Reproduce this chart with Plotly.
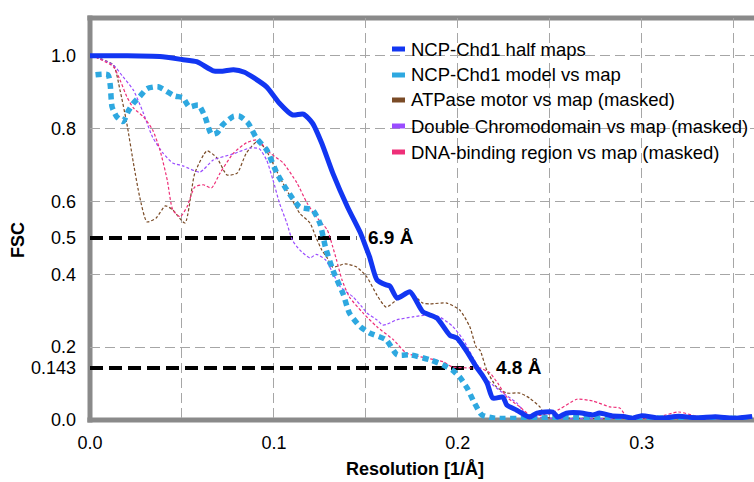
import plotly.graph_objects as go

# ---------------- data ----------------
half_x = [0, 0.02, 0.038, 0.05, 0.058, 0.067, 0.072, 0.078, 0.084, 0.089, 0.096, 0.103, 0.110, 0.116,
          0.121, 0.126, 0.132, 0.140, 0.147, 0.150, 0.152, 0.156, 0.161, 0.163, 0.167, 0.174, 0.181,
          0.1886, 0.1956, 0.1995, 0.205, 0.210, 0.213, 0.216, 0.219, 0.2245, 0.2266, 0.232, 0.239,
          0.243, 0.2516, 0.2543, 0.259, 0.266, 0.2734, 0.277, 0.284, 0.29, 0.295, 0.30, 0.31, 0.32,
          0.33, 0.34, 0.35, 0.36]
half_y = [1.0, 1.0, 0.998, 0.99, 0.984, 0.959, 0.958, 0.962, 0.955, 0.94, 0.915, 0.87, 0.838, 0.84,
          0.815, 0.76, 0.678, 0.585, 0.514, 0.475, 0.448, 0.385, 0.371, 0.368, 0.335, 0.352, 0.297,
          0.28, 0.233, 0.225, 0.187, 0.146, 0.125, 0.10, 0.06, 0.063, 0.041, 0.027, 0.008,
          0.019, 0.022, 0.008, 0.019, 0.02, 0.014, 0.019, 0.011, 0.01, 0.005, 0.012, 0.005, 0.01,
          0.006, 0.009, 0.005, 0.01]

model_x = [0.003, 0.0098, 0.011, 0.012, 0.0145, 0.018, 0.021, 0.0236, 0.027, 0.031, 0.037, 0.046,
           0.0505, 0.054, 0.059, 0.0625, 0.066, 0.069, 0.072, 0.078, 0.0815, 0.086, 0.0905, 0.096,
           0.1016, 0.107, 0.114, 0.121, 0.125, 0.128, 0.132, 0.1377, 0.141, 0.147, 0.152, 0.161,
           0.167, 0.174, 0.185, 0.192, 0.197, 0.201, 0.205, 0.209, 0.213, 0.22, 0.24, 0.26, 0.28,
           0.30, 0.32, 0.34, 0.36]
model_y = [0.948, 0.948, 0.92, 0.86, 0.833, 0.82, 0.85, 0.87, 0.888, 0.91, 0.915, 0.89,
           0.885, 0.86, 0.865, 0.833, 0.785, 0.788, 0.81, 0.834, 0.834, 0.815, 0.774, 0.742,
           0.678, 0.632, 0.585, 0.577, 0.54, 0.475, 0.412, 0.345, 0.294, 0.256, 0.239, 0.22,
           0.179, 0.179, 0.165, 0.151, 0.137, 0.118, 0.088, 0.047, 0.014, 0.005, 0.005, 0.008, 0.005,
           0.005, 0.006, 0.005, 0.005]

atp_x = [0.003, 0.0127, 0.0163, 0.020, 0.0236, 0.027, 0.031, 0.036, 0.041, 0.045, 0.0516, 0.057,
         0.0636, 0.069, 0.0745, 0.080, 0.085, 0.0908, 0.095, 0.103, 0.109, 0.114, 0.1196, 0.123,
         0.126, 0.129, 0.132, 0.1386, 0.145, 0.1505, 0.156, 0.161, 0.1668, 0.174, 0.181, 0.185,
         0.194, 0.201, 0.2065, 0.210, 0.212, 0.2157, 0.221, 0.2266, 0.2337, 0.239, 0.2446, 0.248,
         0.26, 0.28, 0.30, 0.32, 0.34, 0.36]
atp_y = [0.997, 0.975, 0.906, 0.815, 0.706, 0.613, 0.544, 0.555, 0.588, 0.577, 0.541, 0.678,
         0.739, 0.72, 0.673, 0.678, 0.733, 0.764, 0.747, 0.668, 0.613, 0.568, 0.541, 0.5,
         0.467, 0.445, 0.42, 0.429, 0.42, 0.393, 0.343, 0.31, 0.33, 0.349, 0.321, 0.319,
         0.321, 0.302, 0.256, 0.2, 0.192, 0.137, 0.091, 0.074, 0.074, 0.06, 0.036, 0.008,
         0.005, 0.004, 0.005, 0.004, 0.005, 0.004]

chromo_x = [0.003, 0.0127, 0.018, 0.0236, 0.029, 0.034, 0.0397, 0.045, 0.0505, 0.0598, 0.067, 0.078,
            0.087, 0.092, 0.096, 0.0995, 0.103, 0.107, 0.110, 0.114, 0.1196, 0.123, 0.128, 0.132,
            0.136, 0.143, 0.148, 0.1505, 0.156, 0.159, 0.161, 0.1668, 0.1755, 0.183, 0.190, 0.197,
            0.203, 0.208, 0.212, 0.216, 0.2245, 0.232, 0.2375, 0.25, 0.28, 0.31, 0.34, 0.36]
chromo_y = [0.997, 0.975, 0.942, 0.906, 0.843, 0.777, 0.733, 0.706, 0.698, 0.681, 0.714, 0.731,
            0.747, 0.745, 0.714, 0.659, 0.596, 0.541, 0.494, 0.467, 0.445, 0.455, 0.44, 0.404,
            0.366, 0.338, 0.31, 0.294, 0.275, 0.261, 0.262, 0.275, 0.283, 0.288, 0.283, 0.258,
            0.22, 0.173, 0.14, 0.11, 0.074, 0.047, 0.014, 0.005, 0.004, 0.005, 0.004, 0.005]

dna_x = [0.003, 0.0127, 0.0163, 0.020, 0.0236, 0.029, 0.034, 0.038, 0.042, 0.045, 0.049, 0.0527,
         0.057, 0.0616, 0.066, 0.0707, 0.078, 0.085, 0.0908, 0.098, 0.105, 0.1125, 0.118, 0.123,
         0.129, 0.132, 0.134, 0.137, 0.141, 0.1484, 0.156, 0.165, 0.172, 0.183, 0.192, 0.197,
         0.2065, 0.212, 0.2174, 0.2217, 0.2266, 0.2337, 0.239, 0.248, 0.2554, 0.2647, 0.2734,
         0.2826, 0.288, 0.292, 0.299, 0.31, 0.32, 0.33, 0.34, 0.35, 0.36]
dna_y = [0.997, 0.97, 0.934, 0.888, 0.857, 0.833, 0.797, 0.742, 0.659, 0.577, 0.558, 0.585,
         0.64, 0.646, 0.637, 0.678, 0.733, 0.761, 0.769, 0.733, 0.706, 0.651, 0.596, 0.558,
         0.522, 0.475, 0.44, 0.385, 0.338, 0.294, 0.256, 0.22, 0.184, 0.17, 0.16, 0.146,
         0.143, 0.143, 0.129, 0.101, 0.063, 0.036, 0.014, 0.014, 0.03, 0.057, 0.052,
         0.036, 0.033, 0.008, 0.005, 0.01, 0.022, 0.01, 0.006, 0.01, 0.005]

series_names = ["NCP-Chd1 half maps", "NCP-Chd1 model vs map", "ATPase motor vs map (masked)",
                "Double Chromodomain vs map (masked)", "DNA-binding region vs map (masked)"]
series_colors = ["#1236f2", "#2ea8e0", "#7a4b26", "#9a4cff", "#ee2f78"]

thresholds = [0.5, 0.143]
threshold_res = [1 / 6.9, 1 / 4.8]
threshold_labels = ["6.9 Å", "4.8 Å"]

x_tickvals = [0.0, 0.1, 0.2, 0.3]
x_ticktext = ["0.0", "0.1", "0.2", "0.3"]
y_tickvals = [0.0, 0.143, 0.2, 0.4, 0.5, 0.6, 0.8, 1.0]
y_ticktext = ["0.0", "0.143", "0.2", "0.4", "0.5", "0.6", "0.8", "1.0"]

# ---------------- figure ----------------
FONT = "Liberation Sans, Arial, Helvetica, sans-serif"
X_RANGE = [0, 0.361]
Y_RANGE = [0, 1.104]
L, T, W, H = 90, 18, 664, 402


def px2paper(px, py):
    return (px - L) / W, (T + H - py) / H


fig = go.Figure()

# threshold dashed lines
for thr, res in zip(thresholds, threshold_res):
    fig.add_trace(go.Scatter(x=[0, res], y=[thr, thr], mode="lines",
                             line=dict(color="black", width=4, dash="13px,6px"),
                             showlegend=False, hoverinfo="skip"))

styles = [
    dict(width=5, dash="solid"),
    dict(width=5.5, dash="6px,4.5px"),
    dict(width=1.2, dash="3px,2px"),
    dict(width=1.2, dash="3px,2px"),
    dict(width=1.2, dash="3px,2px"),
]
data = [(half_x, half_y), (model_x, model_y), (atp_x, atp_y), (chromo_x, chromo_y), (dna_x, dna_y)]
order = [2, 3, 4, 1, 0]
for i in order:
    xs, ys = data[i]
    fig.add_trace(go.Scatter(x=xs, y=ys, mode="lines", name=series_names[i],
                             line=dict(color=series_colors[i], width=styles[i]["width"],
                                       dash=styles[i]["dash"], shape="spline", smoothing=0.6),
                             showlegend=False))

# threshold labels
label_shift = [9, 21]
for thr, res, lab, sh in zip(thresholds, threshold_res, threshold_labels, label_shift):
    fig.add_annotation(x=res, y=thr, text="<b>%s</b>" % lab, showarrow=False,
                       xanchor="left", yanchor="middle", xshift=sh,
                       font=dict(family=FONT, size=19, color="black"))

# manual legend
row_y = [49, 75, 100, 126, 152]
for name, col, ry in zip(series_names, series_colors, row_y):
    x0, y0 = px2paper(392, ry - 2.5)
    x1, y1 = px2paper(405, ry + 2.5)
    fig.add_shape(type="rect", xref="paper", yref="paper", x0=x0, x1=x1, y0=y1, y1=y0,
                  fillcolor=col, line=dict(width=0), layer="above")
    tx, ty = px2paper(409, ry)
    fig.add_annotation(xref="paper", yref="paper", x=tx, y=ty, text=name, showarrow=False,
                       xanchor="left", yanchor="middle",
                       font=dict(family=FONT, size=18.5, color="black"))

# axis titles
ax_, ay_ = px2paper(18, 240)
fig.add_annotation(xref="paper", yref="paper", x=ax_, y=ay_, text="<b>FSC</b>", showarrow=False,
                   textangle=-90, xanchor="center", yanchor="middle",
                   font=dict(family=FONT, size=18, color="black"))
bx_, by_ = px2paper(415, 469)
fig.add_annotation(xref="paper", yref="paper", x=bx_, y=by_, text="<b>Resolution [1/Å]</b>",
                   showarrow=False, xanchor="center", yanchor="middle",
                   font=dict(family=FONT, size=18, color="black"))

# frame (left, bottom, top)
BORDER = "#8a8a8a"
fig.add_shape(type="line", xref="paper", yref="paper", x0=0, x1=0, y0=-0.006, y1=1.006,
              line=dict(color=BORDER, width=5), layer="below")
fig.add_shape(type="line", xref="paper", yref="paper", x0=-0.004, x1=1, y0=0, y1=0,
              line=dict(color=BORDER, width=5), layer="below")
fig.add_shape(type="line", xref="paper", yref="paper", x0=-0.004, x1=1, y0=1, y1=1,
              line=dict(color=BORDER, width=5), layer="below")

GRID = "#a6a6a6"
fig.update_layout(
    width=754, height=482,
    margin=dict(l=L, r=0, t=T, b=482 - T - H),
    paper_bgcolor="white", plot_bgcolor="white",
    font=dict(family=FONT, size=18, color="black"),
    showlegend=False,
    xaxis=dict(range=X_RANGE, tickvals=x_tickvals, ticktext=x_ticktext,
               showgrid=True, gridcolor=GRID, griddash="10px,5px", gridwidth=1,
               minor=dict(dtick=0.05, tick0=0, showgrid=True, gridcolor=GRID,
                          griddash="10px,5px", gridwidth=1),
               zeroline=False, showline=False, ticks="", ticklabelstandoff=10,
               tickfont=dict(family=FONT, size=18)),
    yaxis=dict(range=Y_RANGE, tickvals=y_tickvals, ticktext=y_ticktext,
               showgrid=False, zeroline=False, showline=False, ticks="",
               ticklabelstandoff=13, tickfont=dict(family=FONT, size=18)),
    yaxis2=dict(range=Y_RANGE, overlaying="y", side="right", dtick=0.2, tick0=0,
                showgrid=True, gridcolor=GRID, griddash="10px,5px", gridwidth=1,
                showticklabels=False, zeroline=False, showline=False, ticks=""),
)
# empty trace on yaxis2 so its grid is drawn
fig.add_trace(go.Scatter(x=[None], y=[None], yaxis="y2", showlegend=False, hoverinfo="skip"))

fig.write_html("out.html")
